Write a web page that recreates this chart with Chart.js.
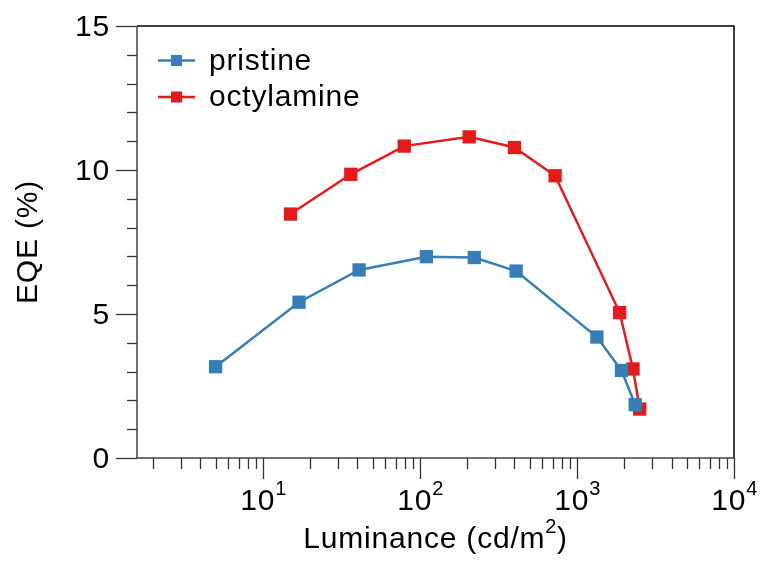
<!DOCTYPE html>
<html>
<head>
<meta charset="utf-8">
<script src="https://cdn.jsdelivr.net/npm/chart.js@4"></script>
<style>
  html, body { margin: 0; padding: 0; background: #fff; }
  #wrap { width: 763px; height: 568px; }
</style>
</head>
<body>
<div id="wrap"><canvas id="eqeChart" width="763" height="568"></canvas></div>
<script>
// values
var seriesNames = ['pristine', 'octylamine'];
var pristineLum = [5.0, 17, 41, 110, 222, 410, 1340, 1920, 2350];
var pristineEqe = [3.17, 5.41, 6.53, 6.99, 6.96, 6.49, 4.20, 3.04, 1.85];
var octylLum = [15, 36.3, 79.5, 206, 400, 726, 1870, 2275, 2510];
var octylEqe = [8.47, 9.85, 10.83, 11.15, 10.78, 9.80, 5.05, 3.09, 1.70];

var xMajorTicks = [10, 100, 1000, 10000];
var xTickExp = ['1', '2', '3', '4'];
var yMajorTicks = [0, 5, 10, 15];
var xMin = 1.58, xMax = 10000;
var yMin = 0, yMax = 15;

var BLUE = '#377eb8';
var RED = '#e41a1c';
var FONT = '"Liberation Sans", Arial, Helvetica, sans-serif';
var BIG = '30px ' + FONT, SMALL = '20px ' + FONT;

function toPoints(xs, ys) {
    return xs.map(function (x, i) { return { x: x, y: ys[i] }; });
}

function setFont(ctx, f) {
    ctx.font = f;
    ctx.letterSpacing = (f === BIG) ? '0.8px' : '0.5px';
}

// frame, ticks, tick labels, titles and legend
var axesPlugin = {
    id: 'axesPlugin',
    afterDraw: function (chart) {
        var ctx = chart.ctx;
        var a = chart.chartArea;
        var xs = chart.scales.x, ys = chart.scales.y;
        ctx.save();

        // box: top/right black, left/bottom axes dark grey
        ctx.lineWidth = 1.5;
        ctx.strokeStyle = '#000';
        ctx.beginPath();
        ctx.moveTo(a.left, a.top);
        ctx.lineTo(a.right, a.top);
        ctx.lineTo(a.right, a.bottom);
        ctx.stroke();
        ctx.strokeStyle = '#444';
        ctx.beginPath();
        ctx.moveTo(a.left, a.top);
        ctx.lineTo(a.left, a.bottom);
        ctx.lineTo(a.right, a.bottom);
        ctx.stroke();

        // y ticks
        ctx.lineWidth = 1.3;
        ctx.strokeStyle = '#333';
        ctx.fillStyle = '#000';
        setFont(ctx, BIG);
        ctx.textAlign = 'right';
        ctx.textBaseline = 'middle';
        for (var v = yMin; v <= yMax; v++) {
            var py = Math.round(ys.getPixelForValue(v)) + 0.5;
            var major = yMajorTicks.indexOf(v) >= 0;
            ctx.beginPath();
            ctx.moveTo(a.left - (major ? 21 : 10), py);
            ctx.lineTo(a.left, py);
            ctx.stroke();
            if (major) ctx.fillText(String(v), a.left - 27, py + 1);
        }

        // x ticks (log)
        for (var d = 1; d < xMax; d *= 10) {
            for (var m = 2; m <= 9; m++) {
                var val = m * d;
                if (val < xMin || val >= xMax) continue;
                var px = Math.round(xs.getPixelForValue(val)) + 0.5;
                ctx.beginPath();
                ctx.moveTo(px, a.bottom);
                ctx.lineTo(px, a.bottom + 11);
                ctx.stroke();
            }
        }
        ctx.textAlign = 'left';
        ctx.textBaseline = 'alphabetic';
        xMajorTicks.forEach(function (t, i) {
            var px = Math.round(xs.getPixelForValue(t)) + 0.5;
            ctx.beginPath();
            ctx.moveTo(px, a.bottom);
            ctx.lineTo(px, a.bottom + 21);
            ctx.stroke();
            setFont(ctx, BIG);
            var w1 = ctx.measureText('10').width;
            setFont(ctx, SMALL);
            var w2 = ctx.measureText(xTickExp[i]).width;
            var x0 = px - (w1 + w2) / 2;
            setFont(ctx, BIG);
            ctx.fillText('10', x0, 510);
            setFont(ctx, SMALL);
            ctx.fillText(xTickExp[i], x0 + w1, 495);
        });

        // x title with superscript
        setFont(ctx, BIG);
        var s1 = 'Luminance (cd/m', s3 = ')';
        var ws1 = ctx.measureText(s1).width, ws3 = ctx.measureText(s3).width;
        setFont(ctx, SMALL);
        var ws2 = ctx.measureText('2').width;
        var cx = (a.left + a.right) / 2;
        var tx = cx - (ws1 + ws2 + ws3) / 2;
        setFont(ctx, BIG);
        ctx.fillText(s1, tx, 548);
        ctx.fillText(s3, tx + ws1 + ws2, 548);
        setFont(ctx, SMALL);
        ctx.fillText('2', tx + ws1, 533);

        // y title
        ctx.save();
        ctx.translate(37, (a.top + a.bottom) / 2);
        ctx.rotate(-Math.PI / 2);
        setFont(ctx, BIG);
        ctx.textAlign = 'center';
        ctx.fillText('EQE (%)', 0, 0);
        ctx.restore();

        // legend
        chart.data.datasets.forEach(function (ds, i) {
            var ly = 60.5 + i * 36.5;
            ctx.strokeStyle = ds.borderColor;
            ctx.lineWidth = 2.5;
            ctx.beginPath();
            ctx.moveTo(158, ly);
            ctx.lineTo(195, ly);
            ctx.stroke();
            ctx.fillStyle = ds.borderColor;
            ctx.fillRect(171, ly - 5.5, 11, 11);
            ctx.fillStyle = '#000';
            setFont(ctx, BIG);
            ctx.textAlign = 'left';
            ctx.fillText(ds.label, 209, ly + 9);
        });

        ctx.restore();
    }
};

var ctx = document.getElementById('eqeChart').getContext('2d');
var eqeChart = new Chart(ctx, {
    type: 'line',
    data: {
        datasets: [{
            label: seriesNames[0],
            data: toPoints(pristineLum, pristineEqe),
            borderColor: BLUE,
            backgroundColor: BLUE,
            pointBackgroundColor: BLUE,
            borderWidth: 2.5,
            pointStyle: 'rect',
            pointRadius: 9.4,
            pointBorderWidth: 0
        }, {
            label: seriesNames[1],
            data: toPoints(octylLum, octylEqe),
            borderColor: RED,
            backgroundColor: RED,
            pointBackgroundColor: RED,
            borderWidth: 2.5,
            pointStyle: 'rect',
            pointRadius: 9.4,
            pointBorderWidth: 0
        }]
    },
    options: {
        responsive: false,
        animation: false,
        layout: { padding: { left: 137, top: 26, right: 29, bottom: 110 } },
        plugins: { legend: { display: false }, tooltip: { enabled: false } },
        scales: {
            x: { type: 'logarithmic', min: xMin, max: xMax, display: false },
            y: { type: 'linear', min: yMin, max: yMax, display: false }
        },
        clip: false
    },
    plugins: [axesPlugin]
});
</script>
</body>
</html>
